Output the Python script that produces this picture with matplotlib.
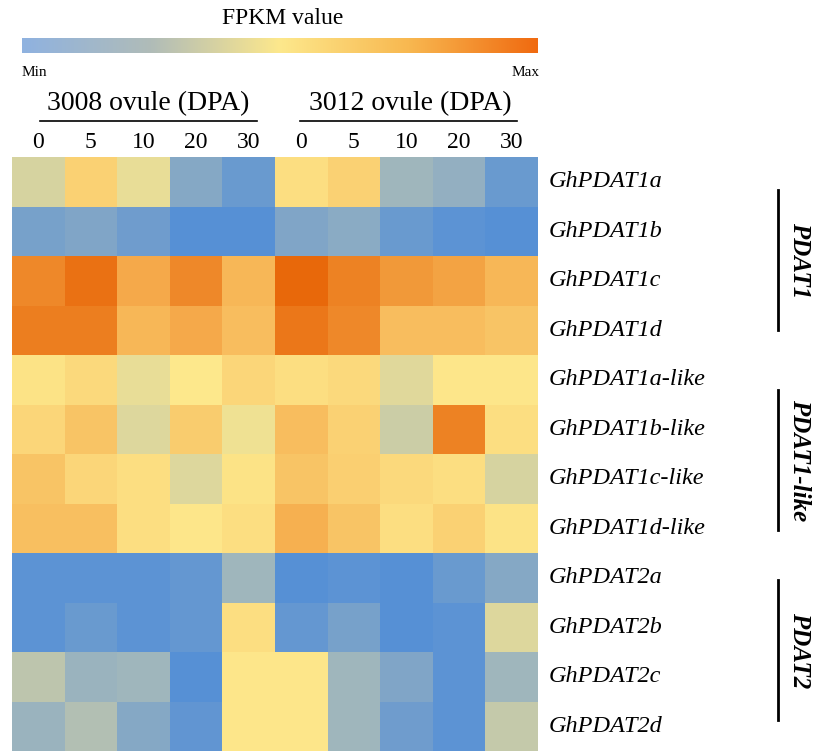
import matplotlib
matplotlib.use("Agg")
import matplotlib.pyplot as plt
import numpy as np
from matplotlib.colors import LinearSegmentedColormap

genes = ["GhPDAT1a","GhPDAT1b","GhPDAT1c","GhPDAT1d","GhPDAT1a-like","GhPDAT1b-like",
         "GhPDAT1c-like","GhPDAT1d-like","GhPDAT2a","GhPDAT2b","GhPDAT2c","GhPDAT2d"]
dpa = ["0","5","10","20","30","0","5","10","20","30"]
values = [
 [0.45,0.65,0.50,0.20,0.10,0.60,0.65,0.30,0.25,0.10],
 [0.15,0.18,0.12,0.03,0.03,0.18,0.22,0.10,0.05,0.03],
 [0.90,0.97,0.80,0.90,0.75,1.00,0.92,0.85,0.82,0.75],
 [0.93,0.93,0.75,0.80,0.73,0.95,0.90,0.73,0.73,0.70],
 [0.58,0.62,0.50,0.56,0.63,0.60,0.62,0.48,0.57,0.57],
 [0.63,0.70,0.47,0.67,0.52,0.73,0.65,0.42,0.92,0.60],
 [0.70,0.63,0.60,0.47,0.58,0.70,0.66,0.62,0.60,0.45],
 [0.72,0.72,0.60,0.57,0.60,0.78,0.70,0.60,0.65,0.58],
 [0.05,0.05,0.05,0.08,0.30,0.03,0.05,0.03,0.10,0.20],
 [0.05,0.10,0.05,0.08,0.60,0.08,0.15,0.03,0.05,0.47],
 [0.38,0.28,0.30,0.03,0.57,0.57,0.30,0.18,0.05,0.30],
 [0.28,0.35,0.20,0.07,0.57,0.57,0.30,0.12,0.05,0.40],
]
groups = [("PDAT1",190,330),("PDAT1-like",390,530),("PDAT2",580,720)]

W,H = 826,751
cmap = LinearSegmentedColormap.from_list("f",[(0,"#4f8cd8"),(0.3,"#a0b6bc"),(0.56,"#fde88c"),(0.78,"#f6b050"),(1,"#e8680a")])
cbmap = LinearSegmentedColormap.from_list("c",[(0,"#8fb2e0"),(0.25,"#b0bcb8"),(0.5,"#fde88c"),(0.75,"#f8b850"),(1,"#f06a10")])
fig = plt.figure(figsize=(W/100,H/100),dpi=100)
def ax_px(x0,y0,x1,y1):
    return fig.add_axes([x0/W,1-y1/H,(x1-x0)/W,(y1-y0)/H])

ax = ax_px(12,157,538,751)
ax.pcolormesh(np.array(values),cmap=cmap,vmin=0,vmax=1)
ax.set_xlim(0,10); ax.set_ylim(12,0); ax.axis("off")

serif = "Liberation Serif"
for i,g in enumerate(genes):
    ax.text(10.2,i+0.5,g,fontsize=17.5,style="italic",family=serif,va="center",ha="left")

cax = ax_px(22,38,538,53)
cax.imshow(np.linspace(0,1,256)[None,:],cmap=cbmap,aspect="auto")
cax.axis("off")

fig.text(283/W,1-18/H,"FPKM value",fontsize=17,family=serif,ha="center",va="center")
fig.text(22/W,1-72/H,"Min",fontsize=11,family=serif,ha="left",va="center")
fig.text(540/W,1-72/H,"Max",fontsize=11,family=serif,ha="right",va="center")
for cx,lab,x0,x1 in [(148,"3008 ovule (DPA)",40,257),(410,"3012 ovule (DPA)",300,517)]:
    fig.text(cx/W,1-104/H,lab,fontsize=20,family=serif,ha="center",va="center")
    fig.add_artist(plt.Line2D([x0/W,x1/W],[1-121/H,1-121/H],color="black",lw=1.2))
for j,d in enumerate(dpa):
    fig.text((12+52.6*(j+0.5))/W,1-143/H,d,fontsize=17,family=serif,ha="center",va="center")
for name,y0,y1 in groups:
    fig.add_artist(plt.Line2D([778/W,778/W],[1-y0/H,1-y1/H],color="black",lw=2))
    fig.text(800/W,1-(y0+y1)/2/H,name,fontsize=18,family=serif,style="italic",weight="bold",
             rotation=270,ha="center",va="center")
fig.savefig("out.png",dpi=100)
